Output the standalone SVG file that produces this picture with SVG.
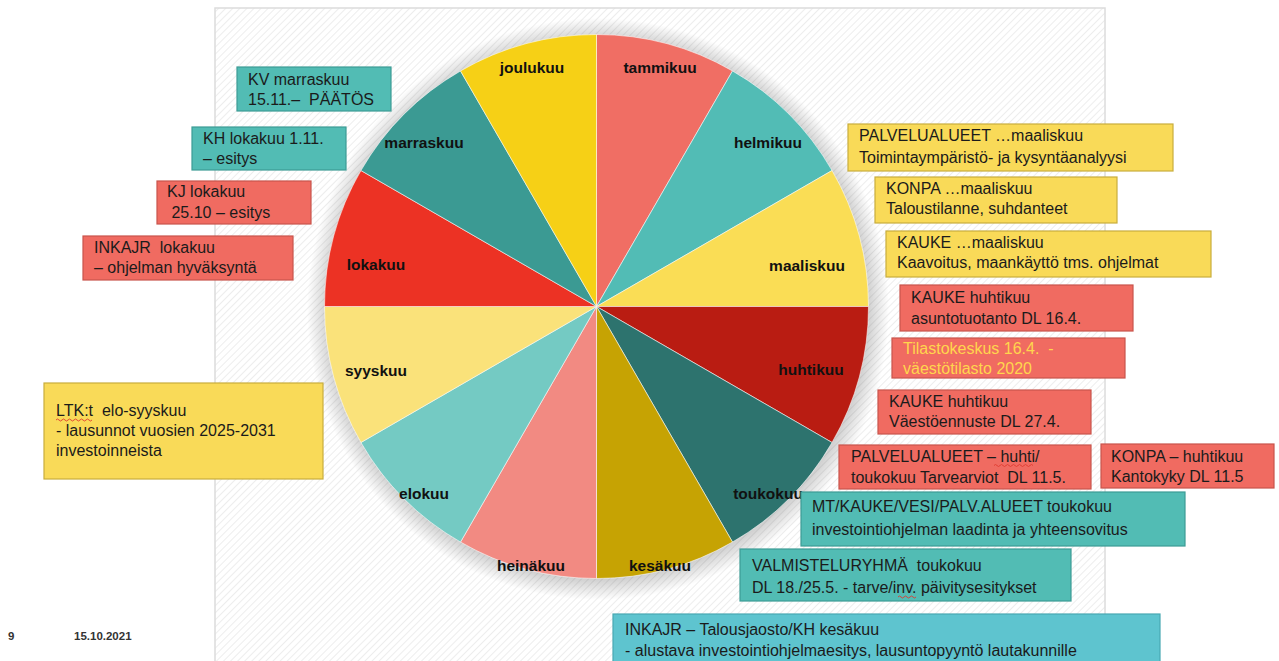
<svg xmlns="http://www.w3.org/2000/svg" width="1279" height="661" viewBox="0 0 1279 661">
<defs>
<pattern id="hatch" width="5" height="5" patternUnits="userSpaceOnUse" patternTransform="rotate(45)">
<rect width="5" height="5" fill="#ffffff"/>
<line x1="0" y1="0" x2="0" y2="5" stroke="#e9e9e9" stroke-width="1.6"/>
</pattern>
<radialGradient id="shadow" cx="0.5" cy="0.5" r="0.5">
<stop offset="0.93" stop-color="#000" stop-opacity="0.18"/>
<stop offset="1" stop-color="#000" stop-opacity="0"/>
</radialGradient>
<style>
.lbl{font-family:"Liberation Sans",Arial,sans-serif;font-weight:bold;font-size:15.5px;fill:#111;text-anchor:middle}
.bt{font-family:"Liberation Sans",Arial,sans-serif;font-size:16px;fill:#1b1b1b;white-space:pre}
.teal{fill:#52bcb4;stroke:#3d9c95;stroke-width:1.2}
.red{fill:#f06b61;stroke:#c9544b;stroke-width:1.2}
.yel{fill:#f9da58;stroke:#c8ad3d;stroke-width:1.2}
.cyan{fill:#5ec4cf;stroke:#49a8b2;stroke-width:1.2}
.sl{stroke:#ffffff;stroke-opacity:0.55;stroke-width:1}
.wavy{fill:none;stroke:#e03a2f;stroke-width:0.9}
.foot{font-family:"Liberation Sans",Arial,sans-serif;font-size:11.5px;font-weight:bold;fill:#333}
</style>
</defs>
<rect width="1279" height="661" fill="#ffffff"/>
<rect x="215" y="8" width="890" height="670" fill="url(#hatch)" stroke="#dcdcdc" stroke-width="1.5"/>
<circle cx="598" cy="309" r="291" fill="url(#shadow)"/>

<g id="pie">
<path class="sl" d="M596.5 306.5 L596.5 34.5 A272 272 0 0 1 732.5 70.94 Z" fill="#f06e64"/>
<path class="sl" d="M596.5 306.5 L732.5 70.94 A272 272 0 0 1 832.06 170.5 Z" fill="#52bcb5"/>
<path class="sl" d="M596.5 306.5 L832.06 170.5 A272 272 0 0 1 868.5 306.5 Z" fill="#fadd55"/>
<path class="sl" d="M596.5 306.5 L868.5 306.5 A272 272 0 0 1 832.06 442.5 Z" fill="#b91c12"/>
<path class="sl" d="M596.5 306.5 L832.06 442.5 A272 272 0 0 1 732.5 542.06 Z" fill="#2d736e"/>
<path class="sl" d="M596.5 306.5 L732.5 542.06 A272 272 0 0 1 596.5 578.5 Z" fill="#c6a303"/>
<path class="sl" d="M596.5 306.5 L596.5 578.5 A272 272 0 0 1 460.5 542.06 Z" fill="#f28a82"/>
<path class="sl" d="M596.5 306.5 L460.5 542.06 A272 272 0 0 1 360.94 442.5 Z" fill="#74cac3"/>
<path class="sl" d="M596.5 306.5 L360.94 442.5 A272 272 0 0 1 324.5 306.5 Z" fill="#fae27a"/>
<path class="sl" d="M596.5 306.5 L324.5 306.5 A272 272 0 0 1 360.94 170.5 Z" fill="#ec3224"/>
<path class="sl" d="M596.5 306.5 L360.94 170.5 A272 272 0 0 1 460.5 70.94 Z" fill="#3b9a93"/>
<path class="sl" d="M596.5 306.5 L460.5 70.94 A272 272 0 0 1 596.5 34.5 Z" fill="#f6d016"/>
<text class="lbl" x="660" y="73">tammikuu</text>
<text class="lbl" x="768" y="148">helmikuu</text>
<text class="lbl" x="807" y="271">maaliskuu</text>
<text class="lbl" x="811" y="375">huhtikuu</text>
<text class="lbl" x="768" y="499">toukokuu</text>
<text class="lbl" x="660" y="571">kesäkuu</text>
<text class="lbl" x="531" y="571">heinäkuu</text>
<text class="lbl" x="424" y="499">elokuu</text>
<text class="lbl" x="376" y="376">syyskuu</text>
<text class="lbl" x="376" y="270">lokakuu</text>
<text class="lbl" x="424" y="148">marraskuu</text>
<text class="lbl" x="532" y="73">joulukuu</text>
</g>

<g id="kv-marraskuu">
<rect class="teal" x="237" y="67" width="154" height="44"/>
<text class="bt" x="248" y="85">KV marraskuu</text>
<text class="bt" x="248" y="105">15.11.–  PÄÄTÖS</text>
</g>
<g id="kh-lokakuu">
<rect class="teal" x="192" y="127" width="154" height="43"/>
<text class="bt" x="203" y="144">KH lokakuu 1.11.</text>
<text class="bt" x="203" y="164">– esitys</text>
</g>
<g id="kj-lokakuu">
<rect class="red" x="157" y="181" width="154" height="43"/>
<text class="bt" x="167" y="197">KJ lokakuu</text>
<text class="bt" x="167" y="218"> 25.10 – esitys</text>
</g>
<g id="inkajr-lokakuu">
<rect class="red" x="83" y="236" width="210" height="44"/>
<text class="bt" x="94" y="253">INKAJR  lokakuu</text>
<text class="bt" x="94" y="273">– ohjelman hyväksyntä</text>
</g>
<g id="ltk">
<rect class="yel" x="44" y="383" width="279" height="96"/>
<text class="bt" x="56" y="416">LTK:t  elo-syyskuu</text>
<text class="bt" x="56" y="436">- lausunnot vuosien 2025-2031</text>
<text class="bt" x="56" y="456">investoinneista</text>
<path class="wavy" d="M56 420 q1.5 -2 3 0 t3 0 t3 0 t3 0 t3 0 t3 0 t3 0 t3 0 t3 0 t3 0 t3 0 t3 0"/>
</g>
<g id="palvelualueet-maaliskuu">
<rect class="yel" x="848" y="124" width="325" height="47"/>
<text class="bt" x="859" y="141">PALVELUALUEET …maaliskuu</text>
<text class="bt" x="859" y="163">Toimintaympäristö- ja kysyntäanalyysi</text>
</g>
<g id="konpa-maaliskuu">
<rect class="yel" x="875" y="177" width="242" height="46"/>
<text class="bt" x="886" y="194">KONPA …maaliskuu</text>
<text class="bt" x="886" y="214">Taloustilanne, suhdanteet</text>
</g>
<g id="kauke-maaliskuu">
<rect class="yel" x="886" y="231" width="325" height="46"/>
<text class="bt" x="897" y="248">KAUKE …maaliskuu</text>
<text class="bt" x="897" y="268">Kaavoitus, maankäyttö tms. ohjelmat</text>
</g>
<g id="kauke-huhtikuu-asunto">
<rect class="red" x="900" y="285" width="233" height="46"/>
<text class="bt" x="911" y="303">KAUKE huhtikuu</text>
<text class="bt" x="911" y="324">asuntotuotanto DL 16.4.</text>
</g>
<g id="tilastokeskus">
<rect class="red" x="892" y="338" width="233" height="40"/>
<text class="bt" x="903" y="354" style="fill:#ffd64d">Tilastokeskus 16.4.  -</text>
<text class="bt" x="903" y="374" style="fill:#ffd64d">väestötilasto 2020</text>
</g>
<g id="kauke-huhtikuu-vaesto">
<rect class="red" x="878" y="390" width="213" height="44"/>
<text class="bt" x="889" y="407">KAUKE huhtikuu</text>
<text class="bt" x="889" y="427">Väestöennuste DL 27.4.</text>
</g>
<g id="palvelualueet-huhti">
<rect class="red" x="839" y="445" width="252" height="44"/>
<text class="bt" x="851" y="462">PALVELUALUEET – huhti/</text>
<text class="bt" x="851" y="483">toukokuu Tarvearviot  DL 11.5.</text>
<path class="wavy" d="M994 465.5 q1.5 -2 3 0 t3 0 t3 0 t3 0 t3 0 t3 0 t3 0 t3 0 t3 0 t3 0 t3 0 t3 0 t3 0"/>
</g>
<g id="konpa-huhtikuu">
<rect class="red" x="1101" y="444" width="173" height="44"/>
<text class="bt" x="1111" y="462">KONPA – huhtikuu</text>
<text class="bt" x="1111" y="482">Kantokyky DL 11.5</text>
</g>
<g id="mt-kauke">
<rect class="teal" x="801" y="492" width="384" height="54"/>
<text class="bt" x="812" y="512">MT/KAUKE/VESI/PALV.ALUEET toukokuu</text>
<text class="bt" x="812" y="535">investointiohjelman laadinta ja yhteensovitus</text>
</g>
<g id="valmisteluryhma">
<rect class="teal" x="740" y="549" width="331" height="52"/>
<text class="bt" x="752" y="571">VALMISTELURYHMÄ  toukokuu</text>
<text class="bt" x="752" y="593">DL 18./25.5. - tarve/inv. päivitysesitykset</text>
<path class="wavy" d="M898 597 q1.5 -2 3 0 t3 0 t3 0 t3 0 t3 0 t3 0"/>
</g>
<g id="inkajr-kesakuu">
<rect class="cyan" x="613" y="614" width="547" height="60"/>
<text class="bt" x="625" y="635">INKAJR – Talousjaosto/KH kesäkuu</text>
<text class="bt" x="625" y="656">- alustava investointiohjelmaesitys, lausuntopyyntö lautakunnille</text>
</g>
<g id="footer">
<text class="foot" x="8" y="640">9</text>
<text class="foot" x="74" y="640">15.10.2021</text>
</g>
</svg>
